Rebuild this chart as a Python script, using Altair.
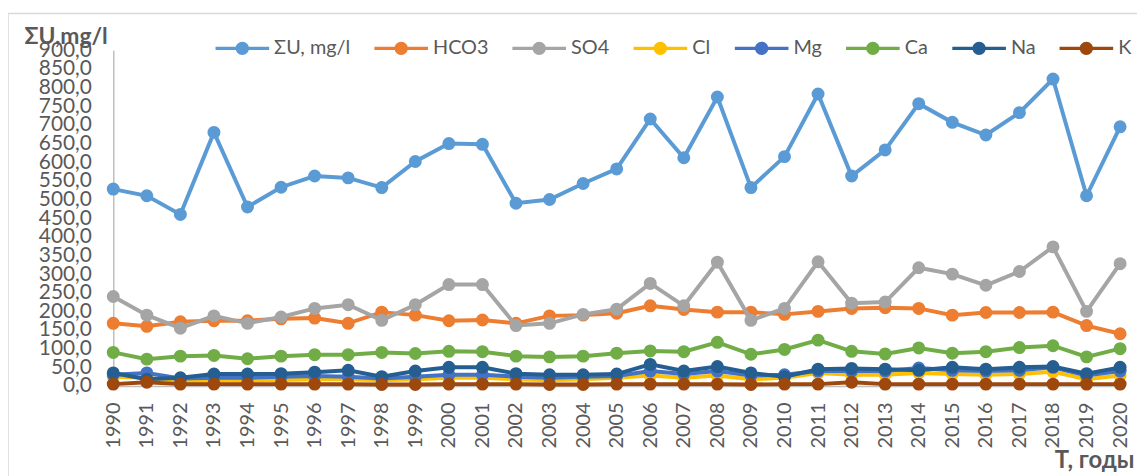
import altair as alt
import pandas as pd

years = list(range(1990, 2021))

series_names = ["ΣU, mg/l", "HCO3", "SO4", "Cl", "Mg", "Ca", "Na", "K"]
series_colors = ["#5B9BD5", "#ED7D31", "#A5A5A5", "#FFC000", "#4472C4", "#70AD47", "#255E91", "#9E480E"]

sum_u = [528, 510, 460, 680, 480, 533, 563, 558, 532, 602, 650, 648, 490, 500, 543, 582,
         716, 612, 775, 532, 615, 783, 563, 633, 757, 707, 673, 733, 823, 510, 695]
hco3 = [168, 160, 172, 175, 175, 180, 182, 168, 198, 190, 175, 177, 168, 188, 190, 195,
        215, 205, 198, 198, 192, 200, 208, 210, 208, 190, 197, 197, 198, 162, 140]
so4 = [240, 190, 155, 188, 168, 185, 208, 218, 176, 218, 272, 272, 162, 168, 192, 206,
       275, 215, 332, 176, 208, 333, 222, 225, 317, 300, 270, 307, 373, 200, 328]
cl = [25, 22, 12, 15, 14, 16, 18, 18, 15, 18, 22, 22, 18, 15, 18, 22,
      28, 22, 28, 18, 22, 35, 30, 30, 35, 32, 30, 32, 38, 18, 28]
mg = [30, 35, 20, 22, 22, 25, 27, 25, 20, 25, 30, 30, 25, 22, 25, 27,
      40, 32, 40, 28, 30, 40, 40, 40, 48, 42, 40, 42, 50, 28, 40]
ca = [90, 72, 80, 82, 73, 80, 84, 84, 90, 87, 93, 92, 80, 78, 80, 88,
      94, 92, 117, 85, 98, 123, 93, 86, 102, 88, 92, 103, 108, 78, 100]
na = [35, 18, 22, 32, 32, 33, 37, 42, 25, 40, 50, 50, 33, 30, 30, 32,
      58, 40, 52, 35, 25, 45, 47, 45, 42, 50, 45, 50, 52, 33, 50]
k = [5, 10, 5, 5, 5, 5, 5, 5, 4, 4, 5, 5, 5, 4, 4, 5,
     5, 5, 5, 4, 5, 5, 10, 5, 5, 5, 5, 5, 5, 5, 5]

y_ticks = list(range(0, 901, 50))

values = [sum_u, hco3, so4, cl, mg, ca, na, k]
rows = []
for name, vals in zip(series_names, values):
    for yr, v in zip(years, vals):
        rows.append({"year": yr, "series": name, "value": v})
df = pd.DataFrame(rows)

FONT = "Lato"
GREY = "#595959"

legend_symbol = ("M-1,-0.065H1V0.065H-1Z "
                 "M-0.25,0A0.25,0.25 0 1,1 0.25,0A0.25,0.25 0 1,1 -0.25,0Z")

color_enc = alt.Color(
    "series:N",
    sort=series_names,
    scale=alt.Scale(domain=series_names, range=series_colors),
    legend=alt.Legend(
        title=None,
        orient="none",
        direction="horizontal",
        columns=8,
        legendX=103,
        legendY=-29,
        symbolType=legend_symbol,
        symbolSize=2916,
        symbolStrokeWidth=0,
        symbolOpacity=1,
        labelFont=FONT,
        labelFontSize=20,
        labelColor=GREY,
        labelOffset=5,
        columnPadding=24,
        padding=0,
    ),
)

x_enc = alt.X(
    "year:O",
    scale=alt.Scale(type="point", padding=0),
    axis=alt.Axis(
        title="T, годы",
        labelAngle=270,
        labelFont=FONT,
        labelFontSize=20,
        labelColor=GREY,
        labelPadding=16,
        ticks=False,
        domainColor="#BFBFBF",
        domainWidth=1.5,
        grid=False,
        titleFont=FONT,
        titleFontSize=24,
        titleFontWeight="bold",
        titleColor=GREY,
        titleAlign="right",
        titleBaseline="middle",
        titleX=1028,
        titleY=75,
    ),
)

y_enc = alt.Y(
    "value:Q",
    scale=alt.Scale(domain=[0, 900], nice=False),
    axis=alt.Axis(
        title="ΣU,mg/l",
        values=y_ticks,
        labelExpr="replace(format(datum.value, '.1f'), '.', ',')",
        labelFont=FONT,
        labelFontSize=21,
        labelColor=GREY,
        labelPadding=22,
        labelOverlap=False,
        labelFlush=False,
        ticks=False,
        domainColor="#BFBFBF",
        domainWidth=1.5,
        grid=False,
        titleFont=FONT,
        titleFontSize=23,
        titleFontWeight="bold",
        titleColor=GREY,
        titleAngle=0,
        titleAlign="center",
        titleBaseline="middle",
        titleX=-48,
        titleY=-14,
    ),
)

base = alt.Chart(df).encode(x=x_enc, y=y_enc, color=color_enc)

layers = []
frame = alt.Chart(pd.DataFrame({"a": [0]})).mark_rect(
    fillOpacity=0, stroke="#D9D9D9", strokeWidth=1.5
).encode(
    x=alt.value(-106), x2=alt.value(1040), y=alt.value(-37), y2=alt.value(440)
)
layers.append(frame)
for name in series_names:
    sub = base.transform_filter(alt.datum.series == name)
    layers.append(sub.mark_line(strokeWidth=4))
    layers.append(sub.mark_circle(size=170, opacity=1))

chart = alt.layer(*layers).properties(
    width=1014,
    height=338,
    autosize=alt.AutoSizeParams(type="none"),
    padding={"left": 106, "top": 41, "right": 17, "bottom": 89},
).configure_view(stroke=None)

chart.save("out.html", embed_options={"renderer": "svg", "actions": False})
